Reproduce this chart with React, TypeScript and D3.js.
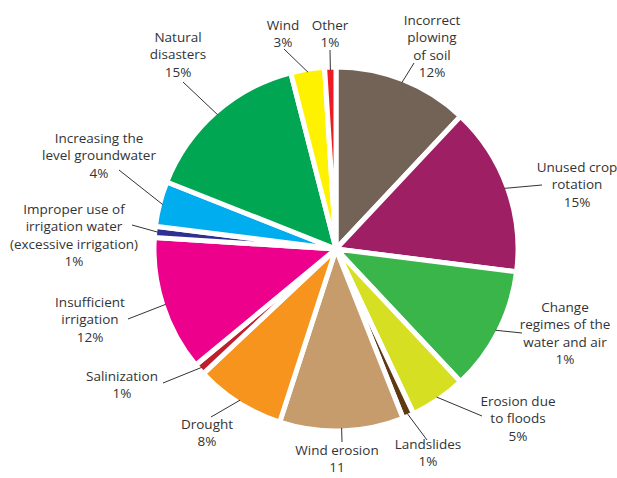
import React from "react";
import * as d3 from "d3";

const categories = [
  "Incorrect plowing of soil",
  "Unused crop rotation",
  "Change regimes of the water and air",
  "Erosion due to floods",
  "Landslides",
  "Wind erosion",
  "Drought",
  "Salinization",
  "Insufficient irrigation",
  "Improper use of irrigation water (excessive irrigation)",
  "Increasing the level groundwater",
  "Natural disasters",
  "Wind",
  "Other",
];
const values = [12, 15, 11, 5, 1, 11, 8, 1, 12, 1, 4, 15, 3, 1];
const labelLines = [
  ["Incorrect", "plowing", "of soil", "12%"],
  ["Unused crop", "rotation", "15%"],
  ["Change", "regimes of the", "water and air", "1%"],
  ["Erosion due", "to floods", "5%"],
  ["Landslides", "1%"],
  ["Wind erosion", "11"],
  ["Drought", "8%"],
  ["Salinization", "1%"],
  ["Insufficient", "irrigation", "12%"],
  ["Improper use of", "irrigation water", "(excessive irrigation)", "1%"],
  ["Increasing the", "level groundwater", "4%"],
  ["Natural", "disasters", "15%"],
  ["Wind", "3%"],
  ["Other", "1%"],
];
const colors = [
  "#736357", "#9e1f63", "#39b54a", "#d7df23", "#603913", "#c69c6d", "#f7941d",
  "#be1e2d", "#ec008c", "#2e3192", "#00aeef", "#00a651", "#fff200", "#ed1c24",
];

// layout: label anchor (center x, first baseline y) and leader-line outer end
const labelPos: [number, number][] = [
  [432, 25], [577, 172], [565, 312], [518, 406], [428, 449], [337, 455], [207, 429],
  [122, 381], [90, 307], [74, 214], [99, 143], [178, 42], [283, 30], [330, 30],
];
const leaderEnd: [number, number][] = [
  [414, 63], [542, 185], [522, 333], [482, 416], [427, 440], [342, 442], [211, 417],
  [163, 383], [128, 319], [132, 225], [119, 170], [183, 82], [284, 49], [330, 50],
];

const W = 617;
const H = 478;
const cx = 336;
const cy = 249;
const R = 182;
const lineH = 17.3;

export default function App() {
  const pie = d3.pie<number>().sort(null).value((d) => d)(values);
  const arc = d3.arc<d3.PieArcDatum<number>>().innerRadius(0).outerRadius(R);
  const rLead = 179;
  return (
    <svg width={W} height={H} style={{ position: "absolute", left: 0, top: 0 }}>
      <g transform={`translate(${cx},${cy})`}>
        {pie.map((p, i) => (
          <path key={i} d={arc(p) || ""} fill={colors[i]} stroke="#fff" strokeWidth={5} strokeLinejoin="round" />
        ))}
      </g>
      {pie.map((p, i) => {
        const a = (p.startAngle + p.endAngle) / 2;
        const x1 = cx + rLead * Math.sin(a);
        const y1 = cy - rLead * Math.cos(a);
        const [x2, y2] = leaderEnd[i];
        return <line key={i} x1={x1} y1={y1} x2={x2} y2={y2} stroke="#333" strokeWidth={1} />;
      })}
      {labelLines.map((lines, i) => (
        <text
          key={i}
          x={labelPos[i][0]}
          y={labelPos[i][1]}
          textAnchor="middle"
          fontFamily="'Open Sans', sans-serif"
          fontSize={13.5}
          fill="#333335"
        >
          {lines.map((l, j) => (
            <tspan key={j} x={labelPos[i][0]} y={labelPos[i][1] + j * lineH}>
              {l}
            </tspan>
          ))}
        </text>
      ))}
    </svg>
  );
}
